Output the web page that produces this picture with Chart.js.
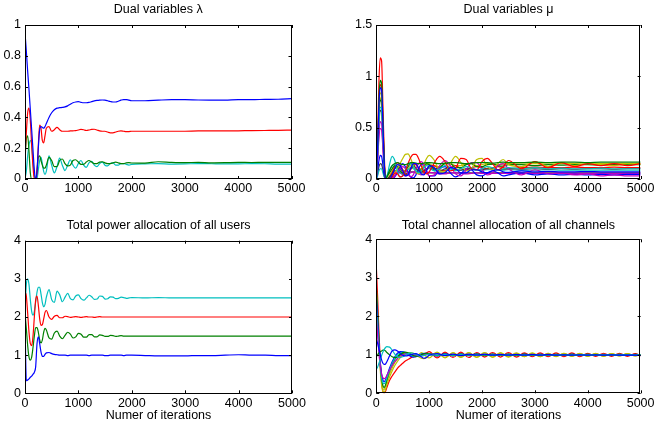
<!DOCTYPE html>
<html lang="en">
<head>
<meta charset="UTF-8" />
<title>Dual variables and allocations</title>
<script src="https://cdn.jsdelivr.net/npm/chart.js"></script>
<style>
  body { margin: 0; background: #fff; }
  #wrap { position: relative; width: 657px; height: 426px; }
  canvas { position: absolute; }
</style>
</head>
<body>
<div id="wrap">
  <canvas id="lambda" width="328" height="200" style="left:0;top:0"></canvas>
  <canvas id="mu" width="329" height="200" style="left:328px;top:0"></canvas>
  <canvas id="power" width="328" height="226" style="left:0;top:200px"></canvas>
  <canvas id="channel" width="329" height="226" style="left:328px;top:200px"></canvas>
</div>
<script>
// MATLAB default line colours
const BLUE = "#0000ff", GREEN = "#008000", RED = "#ff0000", CYAN = "#00bfbf",
      MAGENTA = "#bf00bf", YELLOW = "#bfbf00", BLACK = "#404040";

// ---------- iterations for the left panels ----------
const itersLeft = [
  0, 25, 50, 75, 100, 125, 150, 175, 200,
  225, 250, 275, 300, 325, 350, 375, 400,
  450, 500, 550, 600, 650, 700, 750, 800, 850, 900, 950, 1000,
  1050, 1100, 1150, 1200, 1250, 1300, 1350, 1400, 1450, 1500, 1550, 1600, 1650, 1700, 1750, 1800, 1850, 1900, 1950, 2000,
  2250, 2500, 2750, 3000, 3250, 3500, 3750, 4000, 4250, 4500, 4750, 5000
];

// Dual variables lambda
const lambdaBlue = [
  0.95, 0.83, 0.70, 0.58, 0.45, 0.32, 0.19, 0.06, 0.0,
  0.05, 0.20, 0.32, 0.34, 0.335, 0.33, 0.34, 0.36,
  0.40, 0.43, 0.45, 0.46, 0.463, 0.465, 0.468, 0.475, 0.485, 0.495, 0.50, 0.502,
  0.498, 0.495, 0.495, 0.497, 0.502, 0.507, 0.51, 0.512, 0.513, 0.512, 0.508, 0.503, 0.50, 0.50, 0.505, 0.512, 0.516, 0.516, 0.512, 0.508,
  0.508, 0.512, 0.515, 0.515, 0.513, 0.512, 0.512, 0.515, 0.515, 0.517, 0.518, 0.522
];
const lambdaRed = [
  0.15, 0.30, 0.43, 0.46, 0.38, 0.22, 0.08, 0.0, 0.0,
  0.04, 0.22, 0.35, 0.33, 0.25, 0.235, 0.28, 0.33,
  0.34, 0.31, 0.32, 0.335, 0.32, 0.31, 0.31, 0.31, 0.312, 0.313, 0.314, 0.318,
  0.322, 0.32, 0.315, 0.318, 0.322, 0.323, 0.318, 0.312, 0.31, 0.31, 0.305, 0.30, 0.30, 0.305, 0.31, 0.312, 0.31, 0.308, 0.308, 0.31,
  0.31, 0.31, 0.31, 0.31, 0.312, 0.312, 0.312, 0.313, 0.314, 0.315, 0.316, 0.318
];
const lambdaGreen = [
  0.12, 0.26, 0.28, 0.18, 0.04, 0.0, 0.0, 0.0, 0.0,
  0.05, 0.14, 0.15, 0.12, 0.09, 0.07, 0.07, 0.09,
  0.14, 0.12, 0.08, 0.08, 0.12, 0.13, 0.10, 0.085, 0.09, 0.12, 0.125, 0.11,
  0.095, 0.095, 0.11, 0.12, 0.11, 0.10, 0.10, 0.11, 0.112, 0.105, 0.10, 0.10, 0.105, 0.11, 0.105, 0.10, 0.10, 0.105, 0.106, 0.104,
  0.103, 0.112, 0.108, 0.106, 0.108, 0.105, 0.106, 0.108, 0.107, 0.108, 0.108, 0.108
];
const lambdaCyan = [
  0.0, 0.05, 0.15, 0.22, 0.25, 0.22, 0.12, 0.02, 0.0,
  0.0, 0.06, 0.12, 0.14, 0.10, 0.05, 0.03, 0.05,
  0.15, 0.09, 0.04, 0.08, 0.135, 0.09, 0.055, 0.09, 0.125, 0.09, 0.07, 0.10,
  0.12, 0.09, 0.075, 0.105, 0.115, 0.09, 0.08, 0.10, 0.11, 0.09, 0.085, 0.10, 0.105, 0.09, 0.09, 0.10, 0.10, 0.095, 0.09, 0.095,
  0.098, 0.10, 0.097, 0.098, 0.10, 0.099, 0.098, 0.098, 0.10, 0.099, 0.097, 0.097
];

// Total power allocation of all users
const powerCyan = [
  2.2, 2.85, 3.0, 2.85, 2.45, 2.15, 2.05, 2.15, 2.4,
  2.65, 2.78, 2.78, 2.6, 2.38, 2.27, 2.33, 2.52,
  2.72, 2.45, 2.38, 2.68, 2.58, 2.4, 2.52, 2.62, 2.48, 2.45, 2.55, 2.58,
  2.48, 2.44, 2.5, 2.57, 2.53, 2.46, 2.47, 2.55, 2.54, 2.47, 2.48, 2.53, 2.52, 2.48, 2.49, 2.52, 2.51, 2.49, 2.5, 2.51,
  2.5, 2.51, 2.5, 2.5, 2.5, 2.5, 2.5, 2.5, 2.5, 2.5, 2.5, 2.5
];
const powerRed = [
  2.65, 2.55, 2.1, 1.6, 1.3, 1.25, 1.5, 2.0, 2.45,
  2.55, 2.3, 1.95, 1.78, 1.8, 1.95, 2.12, 2.17,
  2.0, 1.94, 2.02, 2.04, 1.98, 1.98, 2.02, 2.01, 1.99, 2.0, 2.01, 2.0,
  1.99, 2.0, 2.01, 2.0, 2.0, 1.99, 2.0, 2.01, 2.0, 2.0, 2.0, 2.0, 2.0, 2.0, 2.0, 2.0, 2.0, 2.0, 2.0, 2.0,
  2.0, 2.0, 2.0, 2.0, 2.0, 2.0, 2.0, 2.0, 2.0, 2.0, 2.0, 2.0
];
const powerGreen = [
  2.1, 1.7, 1.25, 0.95, 0.87, 0.95, 1.2, 1.5, 1.72,
  1.72, 1.6, 1.4, 1.32, 1.4, 1.6, 1.7, 1.66,
  1.45, 1.42, 1.58, 1.63, 1.5, 1.43, 1.52, 1.6, 1.55, 1.45, 1.48, 1.57,
  1.55, 1.47, 1.47, 1.54, 1.54, 1.48, 1.48, 1.53, 1.52, 1.49, 1.49, 1.52, 1.51, 1.49, 1.5, 1.51, 1.5, 1.5, 1.5, 1.5,
  1.5, 1.5, 1.5, 1.5, 1.5, 1.5, 1.5, 1.5, 1.5, 1.5, 1.5, 1.5
];
const powerBlue = [
  1.9, 0.33, 0.35, 0.38, 0.42, 0.45, 0.5, 0.55, 0.7,
  1.3, 1.48, 1.3, 1.08, 0.97, 0.97, 1.02, 1.06,
  1.07, 1.04, 1.02, 1.01, 1.0, 1.0, 1.0, 0.99, 1.0, 1.0, 1.0, 1.0,
  1.0, 1.0, 1.0, 0.99, 1.0, 1.0, 1.0, 1.0, 1.0, 0.99, 0.99, 1.0, 1.0, 1.0, 1.0, 1.0, 0.99, 1.0, 1.0, 1.0,
  0.99, 0.98, 0.98, 0.98, 0.99, 0.99, 1.0, 1.01, 1.0, 1.0, 0.99, 0.99
];

// ---------- iterations for the mu panel ----------
const itersMu = [
  0, 25, 50, 75, 100, 125, 150, 175, 200,
  250, 300, 350, 400, 450, 500, 550, 600, 650, 700, 750, 800, 850, 900, 950, 1000,
  1100, 1200, 1300, 1400, 1500, 1600, 1700, 1800, 1900, 2000, 2100, 2200, 2300, 2400, 2500,
  2750, 3000, 3250, 3500, 3750, 4000, 4250, 4500, 4750, 5000
];

const muBlue1 = [
  0, 0.3, 0.72, 0.89, 0.87, 0.53, 0.16, 0, 0,
  0, 0.04, 0.1, 0.14, 0.13, 0.08, 0.03, 0.04, 0.1, 0.15, 0.15, 0.1, 0.05, 0.04, 0.08, 0.13,
  0.11, 0.05, 0.06, 0.11, 0.1, 0.06, 0.06, 0.09, 0.09, 0.07, 0.06, 0.08, 0.09, 0.07, 0.065,
  0.08, 0.07, 0.075, 0.07, 0.07, 0.072, 0.07, 0.07, 0.07, 0.07
];
const muGreen1 = [
  0, 0.33, 0.78, 0.96, 0.93, 0.58, 0.18, 0, 0.02,
  0.08, 0.13, 0.15, 0.16, 0.15, 0.14, 0.14, 0.15, 0.16, 0.16, 0.155, 0.15, 0.15, 0.155, 0.16, 0.16,
  0.155, 0.15, 0.155, 0.16, 0.16, 0.155, 0.15, 0.155, 0.16, 0.16, 0.16, 0.155, 0.16, 0.165, 0.16,
  0.16, 0.165, 0.16, 0.165, 0.165, 0.16, 0.165, 0.165, 0.165, 0.165
];
const muRed1 = [
  0, 0.4, 0.95, 1.18, 1.15, 0.72, 0.25, 0, 0,
  0.0, 0.02, 0.06, 0.05, 0.02, 0.03, 0.08, 0.15, 0.21, 0.24, 0.24, 0.2, 0.13, 0.07, 0.05, 0.07,
  0.16, 0.22, 0.17, 0.08, 0.1, 0.2, 0.19, 0.1, 0.09, 0.17, 0.2, 0.15, 0.09, 0.12, 0.18,
  0.1, 0.17, 0.11, 0.16, 0.12, 0.15, 0.13, 0.15, 0.13, 0.15
];
const muCyan1 = [
  0, 0.24, 0.57, 0.7, 0.68, 0.42, 0.12, 0, 0.02,
  0.14, 0.22, 0.18, 0.08, 0.02, 0.03, 0.09, 0.14, 0.15, 0.12, 0.08, 0.06, 0.08, 0.11, 0.13, 0.12,
  0.08, 0.1, 0.13, 0.11, 0.08, 0.1, 0.12, 0.11, 0.09, 0.1, 0.12, 0.11, 0.09, 0.1, 0.11,
  0.1, 0.11, 0.1, 0.105, 0.1, 0.1, 0.105, 0.1, 0.1, 0.1
];
const muMagenta1 = [
  0, 0.19, 0.45, 0.56, 0.54, 0.33, 0.1, 0, 0,
  0, 0, 0.03, 0.07, 0.1, 0.12, 0.1, 0.05, 0.02, 0.04, 0.1, 0.15, 0.17, 0.14, 0.08, 0.03,
  0.04, 0.13, 0.18, 0.13, 0.05, 0.03, 0.09, 0.16, 0.16, 0.09, 0.04, 0.06, 0.13, 0.15, 0.1,
  0.04, 0.09, 0.05, 0.06, 0.04, 0.05, 0.03, 0.04, 0.03, 0.03
];
const muYellow1 = [
  0, 0.28, 0.68, 0.84, 0.82, 0.5, 0.15, 0, 0,
  0.0, 0.02, 0.06, 0.1, 0.15, 0.2, 0.24, 0.245, 0.2, 0.13, 0.07, 0.05, 0.08, 0.14, 0.2, 0.23,
  0.18, 0.08, 0.07, 0.15, 0.22, 0.16, 0.08, 0.1, 0.19, 0.2, 0.12, 0.09, 0.15, 0.19, 0.14,
  0.12, 0.17, 0.12, 0.16, 0.13, 0.15, 0.14, 0.13, 0.15, 0.14
];
const muBlack1 = [
  0, 0.23, 0.54, 0.67, 0.65, 0.4, 0.12, 0, 0,
  0.02, 0.05, 0.1, 0.12, 0.1, 0.06, 0.04, 0.06, 0.1, 0.12, 0.11, 0.08, 0.07, 0.08, 0.1, 0.11,
  0.09, 0.08, 0.1, 0.11, 0.09, 0.085, 0.1, 0.1, 0.09, 0.09, 0.1, 0.1, 0.09, 0.095, 0.1,
  0.095, 0.1, 0.095, 0.1, 0.095, 0.1, 0.1, 0.095, 0.1, 0.1
];
const muBlue2 = [
  0, 0.08, 0.18, 0.23, 0.22, 0.14, 0.04, 0, 0,
  0, 0, 0.02, 0.06, 0.12, 0.15, 0.12, 0.06, 0.02, 0.01, 0.04, 0.1, 0.14, 0.13, 0.08, 0.03,
  0.03, 0.1, 0.12, 0.06, 0.02, 0.05, 0.1, 0.09, 0.04, 0.03, 0.06, 0.08, 0.06, 0.03, 0.04,
  0.06, 0.04, 0.05, 0.04, 0.045, 0.04, 0.045, 0.04, 0.045, 0.045
];
const muGreen2 = [
  0, 0.26, 0.62, 0.77, 0.75, 0.46, 0.14, 0, 0.02,
  0.06, 0.1, 0.13, 0.12, 0.08, 0.06, 0.08, 0.12, 0.15, 0.14, 0.1, 0.08, 0.09, 0.13, 0.15, 0.14,
  0.1, 0.11, 0.15, 0.15, 0.11, 0.11, 0.14, 0.15, 0.12, 0.12, 0.14, 0.145, 0.13, 0.125, 0.14,
  0.14, 0.13, 0.14, 0.135, 0.14, 0.14, 0.135, 0.14, 0.14, 0.14
];
const muRed2 = [
  0, 0.31, 0.74, 0.92, 0.9, 0.55, 0.17, 0, 0,
  0.02, 0.06, 0.12, 0.16, 0.14, 0.09, 0.05, 0.05, 0.09, 0.13, 0.14, 0.11, 0.08, 0.07, 0.09, 0.12,
  0.13, 0.09, 0.08, 0.11, 0.13, 0.1, 0.09, 0.11, 0.12, 0.11, 0.1, 0.11, 0.12, 0.11, 0.1,
  0.11, 0.115, 0.11, 0.11, 0.115, 0.11, 0.11, 0.115, 0.11, 0.11
];
const muCyan2 = [
  0, 0.03, 0.08, 0.1, 0.1, 0.06, 0.02, 0, 0.03,
  0.09, 0.13, 0.14, 0.11, 0.07, 0.05, 0.06, 0.09, 0.11, 0.1, 0.08, 0.07, 0.07, 0.09, 0.1, 0.1,
  0.08, 0.08, 0.09, 0.095, 0.085, 0.085, 0.09, 0.09, 0.085, 0.085, 0.09, 0.09, 0.085, 0.085, 0.09,
  0.085, 0.085, 0.09, 0.085, 0.085, 0.085, 0.085, 0.085, 0.085, 0.085
];
const muMagenta2 = [
  0, 0.17, 0.4, 0.49, 0.48, 0.29, 0.09, 0, 0,
  0, 0.01, 0.04, 0.06, 0.06, 0.04, 0.03, 0.04, 0.06, 0.07, 0.06, 0.05, 0.04, 0.05, 0.06, 0.065,
  0.06, 0.05, 0.05, 0.06, 0.06, 0.055, 0.05, 0.055, 0.06, 0.055, 0.055, 0.055, 0.055, 0.055, 0.055,
  0.055, 0.055, 0.055, 0.055, 0.055, 0.055, 0.055, 0.055, 0.055, 0.055
];
const muYellow2 = [
  0, 0.27, 0.64, 0.79, 0.77, 0.47, 0.14, 0, 0,
  0.03, 0.08, 0.12, 0.14, 0.12, 0.09, 0.08, 0.1, 0.13, 0.15, 0.14, 0.11, 0.1, 0.12, 0.14, 0.15,
  0.12, 0.12, 0.15, 0.15, 0.13, 0.13, 0.15, 0.15, 0.13, 0.14, 0.15, 0.145, 0.14, 0.145, 0.15,
  0.145, 0.15, 0.145, 0.15, 0.15, 0.145, 0.15, 0.15, 0.15, 0.15
];
const muBlack2 = [
  0, 0.05, 0.12, 0.15, 0.14, 0.09, 0.03, 0, 0,
  0.02, 0.05, 0.08, 0.08, 0.06, 0.05, 0.05, 0.06, 0.07, 0.07, 0.06, 0.06, 0.06, 0.06, 0.06, 0.06,
  0.06, 0.06, 0.06, 0.06, 0.06, 0.06, 0.06, 0.06, 0.06, 0.06, 0.06, 0.06, 0.06, 0.06, 0.06,
  0.06, 0.06, 0.06, 0.06, 0.06, 0.06, 0.06, 0.06, 0.06, 0.06
];

// ---------- iterations for the channel panel ----------
const itersChannel = [
  0, 25, 50, 75, 100, 125, 150, 175, 200,
  250, 300, 350, 400, 450, 500, 550, 600, 650, 700, 750, 800, 850, 900, 950, 1000,
  1150, 1300, 1450, 1600, 1750, 1900, 2050, 2200, 2350, 2500, 2650, 2800, 2950, 3100, 3250,
  3400, 3550, 3700, 3850, 4000, 4150, 4300, 4450, 4600, 4750, 4900, 5000
];

const chRed = [
  3.3, 2.5, 1.6, 0.85, 0.3, 0.05, 0.0, 0.05, 0.15,
  0.33, 0.45, 0.55, 0.65, 0.72, 0.78, 0.84, 0.88, 0.92, 0.95, 0.97, 0.98, 0.99, 1.01, 1.05, 1.08,
  0.92, 1.07, 0.93, 1.07, 0.93, 1.06, 0.94, 1.06, 0.94, 1.06, 0.94, 1.05, 0.95, 1.05, 0.95,
  1.05, 0.95, 1.05, 0.95, 1.04, 0.96, 1.04, 0.96, 1.04, 0.96, 1.03, 0.97
];
const chYellow1 = [
  2.7, 2.0, 1.3, 0.7, 0.3, 0.12, 0.1, 0.18, 0.3,
  0.5, 0.66, 0.8, 0.9, 0.98, 1.03, 1.05, 1.04, 1.0, 0.96, 0.95, 1.0, 1.06, 1.02, 0.95, 0.92,
  1.07, 0.93, 1.06, 0.94, 1.06, 0.94, 1.06, 0.94, 1.05, 0.95, 1.05, 0.95, 1.05, 0.95, 1.04,
  0.96, 1.04, 0.96, 1.04, 0.96, 1.04, 0.96, 1.03, 0.97, 1.03, 0.97, 1.0
];
const chGreen1 = [
  2.8, 2.1, 1.4, 0.8, 0.4, 0.2, 0.15, 0.22, 0.35,
  0.58, 0.75, 0.88, 0.96, 1.02, 1.05, 1.05, 1.03, 1.0, 0.97, 0.96, 0.98, 1.01, 1.03, 1.03, 1.02,
  0.98, 1.02, 0.98, 1.02, 0.99, 1.02, 0.99, 1.01, 0.99, 1.01, 0.99, 1.01, 0.99, 1.01, 0.99,
  1.01, 1.0, 1.01, 1.0, 1.01, 1.0, 1.0, 1.0, 1.01, 1.0, 1.0, 1.0
];
const chBlue1 = [
  2.5, 1.9, 1.3, 0.8, 0.5, 0.35, 0.3, 0.35, 0.45,
  0.65, 0.82, 0.95, 1.04, 1.08, 1.08, 1.05, 1.0, 0.96, 0.94, 0.95, 0.98, 1.02, 1.04, 1.04, 1.02,
  0.97, 1.03, 0.98, 1.02, 0.98, 1.02, 0.99, 1.01, 0.99, 1.01, 0.99, 1.01, 0.99, 1.01, 1.0,
  1.0, 0.99, 1.01, 1.0, 1.0, 0.99, 1.0, 1.0, 1.0, 0.99, 1.0, 0.99
];
const chMagenta = [
  2.0, 1.5, 1.05, 0.7, 0.5, 0.4, 0.38, 0.4, 0.47,
  0.6, 0.72, 0.82, 0.9, 0.96, 1.0, 1.02, 1.03, 1.02, 1.0, 0.98, 0.97, 0.98, 1.0, 1.01, 1.02,
  0.98, 1.02, 0.98, 1.02, 0.99, 1.01, 0.99, 1.01, 0.99, 1.01, 0.99, 1.01, 1.0, 1.0, 1.0,
  1.0, 0.99, 1.0, 1.0, 1.0, 1.0, 0.99, 1.0, 1.0, 1.0, 0.99, 0.99
];
const chCyan1 = [
  2.3, 1.7, 1.15, 0.7, 0.4, 0.27, 0.25, 0.3, 0.4,
  0.6, 0.78, 0.9, 1.0, 1.05, 1.07, 1.05, 1.02, 0.99, 0.97, 0.97, 0.99, 1.01, 1.02, 1.01, 1.0,
  0.99, 1.01, 0.99, 1.01, 0.99, 1.01, 1.0, 1.0, 1.0, 1.0, 1.0, 1.0, 1.0, 1.0, 1.0,
  1.0, 1.0, 1.0, 1.0, 1.0, 1.0, 1.0, 1.0, 1.0, 1.0, 1.0, 1.0
];
const chBlue2 = [
  1.4, 1.3, 1.15, 1.0, 0.87, 0.78, 0.75, 0.76, 0.82,
  0.97, 1.1, 1.13, 1.1, 1.04, 0.99, 0.97, 0.98, 1.0, 1.02, 1.03, 1.0, 0.95, 0.91, 0.93, 0.99,
  1.03, 0.98, 1.02, 0.98, 1.02, 0.99, 1.02, 0.99, 1.01, 0.99, 1.01, 0.99, 1.01, 0.99, 1.01,
  0.99, 1.0, 0.99, 1.0, 0.99, 1.0, 0.99, 1.0, 0.99, 0.99, 0.99, 0.98
];
const chCyan2 = [
  0.62, 0.68, 0.78, 0.88, 0.98, 1.07, 1.14, 1.19, 1.21,
  1.2, 1.12, 1.02, 0.95, 0.93, 0.95, 0.99, 1.03, 1.05, 1.04, 1.01, 0.98, 0.97, 0.98, 1.0, 1.02,
  0.99, 1.01, 0.99, 1.01, 1.0, 1.0, 1.0, 1.0, 1.0, 1.0, 1.0, 1.0, 1.0, 1.0, 1.0,
  1.0, 1.0, 1.0, 1.0, 1.0, 1.0, 1.0, 1.0, 1.0, 1.0, 1.0, 1.0
];
const chGreen2 = [
  0.95, 1.0, 1.05, 1.08, 1.1, 1.12, 1.12, 1.1, 1.06,
  1.0, 0.95, 0.93, 0.95, 1.0, 1.05, 1.07, 1.05, 1.02, 0.98, 0.96, 0.97, 1.0, 1.03, 1.04, 1.03,
  0.98, 1.02, 0.98, 1.02, 0.99, 1.02, 0.98, 1.02, 0.99, 1.02, 0.98, 1.02, 0.99, 1.01, 0.99,
  1.01, 0.99, 1.01, 0.99, 1.01, 0.99, 1.01, 0.99, 1.01, 0.99, 1.01, 1.0
];
const chYellow2 = [
  2.6, 1.9, 1.2, 0.6, 0.22, 0.05, 0.03, 0.1, 0.22,
  0.42, 0.58, 0.72, 0.83, 0.92, 0.98, 1.02, 1.05, 1.06, 1.04, 1.0, 0.95, 0.91, 0.9, 0.93, 0.98,
  1.05, 0.92, 1.05, 0.93, 1.05, 0.93, 1.05, 0.94, 1.05, 0.94, 1.04, 0.95, 1.04, 0.95, 1.04,
  0.95, 1.04, 0.96, 1.03, 0.96, 1.03, 0.96, 1.03, 0.97, 1.03, 0.97, 1.0
];

const xTicks = [0, 1000, 2000, 3000, 4000, 5000];

// ---------- drawing ----------
Chart.defaults.font.family = "'Liberation Sans', Arial, Helvetica, sans-serif";
Chart.defaults.color = "#000";

// MATLAB style box with inward tick marks on all four sides,
// and the title centred over the plot box instead of the whole canvas
const boxTicks = {
  id: "boxTicks",
  afterLayout(chart) {
    if (chart.titleBlock) {
      chart.titleBlock.left = chart.chartArea.left;
      chart.titleBlock.right = chart.chartArea.right;
    }
  },
  afterDatasetsDraw(chart) {
    const { ctx, chartArea: a, scales } = chart;
    const len = 3;
    ctx.save();
    ctx.strokeStyle = "#000";
    ctx.lineWidth = 1;
    ctx.beginPath();
    scales.x.ticks.forEach((t) => {
      const px = Math.round(scales.x.getPixelForValue(t.value)) + 0.5;
      ctx.moveTo(px, a.bottom); ctx.lineTo(px, a.bottom - len);
      ctx.moveTo(px, a.top); ctx.lineTo(px, a.top + len);
    });
    scales.y.ticks.forEach((t) => {
      const py = Math.round(scales.y.getPixelForValue(t.value)) + 0.5;
      ctx.moveTo(a.left, py); ctx.lineTo(a.left + len, py);
      ctx.moveTo(a.right, py); ctx.lineTo(a.right - len, py);
    });
    ctx.stroke();
    ctx.strokeRect(Math.round(a.left) + 0.5, Math.round(a.top) + 0.5,
                   Math.round(a.width) - 1, Math.round(a.height) - 1);
    ctx.restore();
  },
};

// plain MATLAB-like numbers: 0, 0.2, 1, 1000
const plain = (v) => String(Math.round(v * 100) / 100);

function line(xs, ys, color) {
  return {
    data: xs.map((x, i) => ({ x: x, y: ys[i] })),
    borderColor: color,
    borderWidth: 1.2,
    pointRadius: 0,
    tension: 0.4,
    cubicInterpolationMode: "monotone",
    fill: false,
  };
}

function panel(id, p) {
  new Chart(document.getElementById(id), {
    type: "line",
    data: { datasets: p.series.map((s) => line(p.xs, s[0], s[1])) },
    options: {
      responsive: false,
      animation: false,
      layout: { padding: { left: 0, right: p.rightPad, top: 0, bottom: 0 } },
      plugins: {
        legend: { display: false },
        tooltip: { enabled: false },
        title: {
          display: true,
          text: p.title,
          color: "#000",
          font: { size: 12.5, weight: "normal" },
          padding: { top: p.titleTop, bottom: p.titleBottom },
        },
      },
      scales: {
        x: {
          type: "linear",
          min: 0,
          max: 5000,
          afterBuildTicks: (s) => { s.ticks = xTicks.map((v) => ({ value: v })); },
          grid: { display: false, drawTicks: false },
          border: { display: false },
          ticks: { padding: 2.5, font: { size: 12.5 }, color: "#000", callback: plain },
          title: {
            display: !!p.xTitle,
            text: p.xTitle || "",
            color: "#000",
            font: { size: 12.5 },
            padding: { top: 0, bottom: 2.5 },
          },
          afterFit: (s) => { s.height = p.xHeight; },
        },
        y: {
          min: 0,
          max: p.yMax,
          ticks: { stepSize: p.yStep, padding: 4, font: { size: 12.5 }, color: "#000", callback: plain },
          grid: { display: false, drawTicks: false },
          border: { display: false },
          afterFit: (s) => { s.width = p.yWidth; },
        },
      },
    },
    plugins: [boxTicks],
  });
}

panel("lambda", {
  title: "Dual variables \u03bb",
  xs: itersLeft,
  series: [[lambdaBlue, BLUE], [lambdaRed, RED], [lambdaGreen, GREEN], [lambdaCyan, CYAN]],
  yMax: 1, yStep: 0.2, yWidth: 25, rightPad: 36.5,
  titleTop: 2.5, titleBottom: 7.5, xHeight: 21,
});

panel("mu", {
  title: "Dual variables \u03bc",
  xs: itersMu,
  series: [
    [muBlue1, BLUE], [muGreen1, GREEN], [muRed1, RED], [muCyan1, CYAN], [muMagenta1, MAGENTA],
    [muYellow1, YELLOW], [muBlack1, BLACK], [muBlue2, BLUE], [muGreen2, GREEN], [muRed2, RED],
    [muCyan2, CYAN], [muMagenta2, MAGENTA], [muYellow2, YELLOW], [muBlack2, BLACK],
  ],
  yMax: 1.5, yStep: 0.5, yWidth: 48.3, rightPad: 15,
  titleTop: 2.5, titleBottom: 7.5, xHeight: 21,
});

panel("power", {
  title: "Total power allocation of all users",
  xs: itersLeft,
  series: [[powerBlue, BLUE], [powerGreen, GREEN], [powerRed, RED], [powerCyan, CYAN]],
  yMax: 4, yStep: 1, yWidth: 25, rightPad: 36,
  titleTop: 18.5, titleBottom: 7.2, xHeight: 32.7,
  xTitle: "Numer of iterations",
});

panel("channel", {
  title: "Total channel allocation of all channels",
  xs: itersChannel,
  series: [
    [chBlue2, BLUE], [chCyan2, CYAN], [chGreen2, GREEN], [chMagenta, MAGENTA], [chCyan1, CYAN],
    [chBlue1, BLUE], [chGreen1, GREEN], [chYellow1, YELLOW], [chYellow2, YELLOW], [chRed, RED],
  ],
  yMax: 4, yStep: 1, yWidth: 48.3, rightPad: 14.7,
  titleTop: 18.5, titleBottom: 5.8, xHeight: 32.7,
  xTitle: "Numer of iterations",
});
</script>
</body>
</html>
